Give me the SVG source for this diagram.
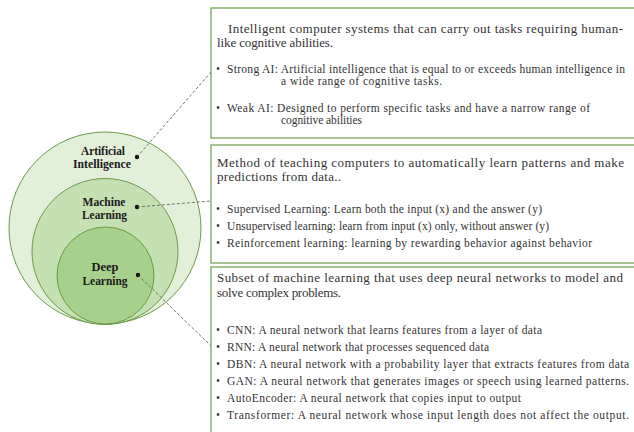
<svg xmlns="http://www.w3.org/2000/svg" width="634" height="432" viewBox="0 0 634 432">
  <style>
    .bg { fill: #ffffff; }
    .ring { stroke: #6a9a48; stroke-width: 1; }
    .lbl { font-family: "Liberation Serif", "DejaVu Serif", serif; font-size: 12px; font-weight: bold; fill: #1a1a1a; text-anchor: middle; }
    .box { fill: #ffffff; stroke: #76a556; stroke-width: 1.3; }
    .ttl { font-family: "Liberation Serif", "DejaVu Serif", serif; font-size: 13px; fill: #333333; }
    .itm { font-family: "Liberation Serif", "DejaVu Serif", serif; font-size: 11.5px; fill: #333333; }
    .dot { fill: #111111; }
    .lead { stroke: #555555; stroke-width: 0.8; stroke-dasharray: 3 2; fill: none; }
  </style>

  <rect class="bg" x="0" y="0" width="634" height="432"/>

  <!-- Nested circles -->
  <g id="artificial-intelligence">
    <circle class="ring" cx="105" cy="228" r="96" fill="#e2efd9"/>
    <text class="lbl" x="103" y="155" textLength="44" lengthAdjust="spacingAndGlyphs">Artificial</text>
    <text class="lbl" x="102" y="167.5" textLength="58" lengthAdjust="spacingAndGlyphs">Intelligence</text>
    <circle class="dot" cx="137" cy="157" r="2.2"/>
  </g>
  <g id="machine-learning">
    <circle class="ring" cx="105" cy="251.5" r="73" fill="#c5e0b3"/>
    <text class="lbl" x="104" y="205.5" textLength="43" lengthAdjust="spacingAndGlyphs">Machine</text>
    <text class="lbl" x="104.5" y="218.5" textLength="45" lengthAdjust="spacingAndGlyphs">Learning</text>
    <circle class="dot" cx="137" cy="207" r="2.2"/>
  </g>
  <g id="deep-learning">
    <circle class="ring" cx="105.5" cy="275.5" r="48.5" fill="#a8d08d"/>
    <text class="lbl" x="105" y="271" textLength="27" lengthAdjust="spacingAndGlyphs">Deep</text>
    <text class="lbl" x="105" y="285" textLength="45" lengthAdjust="spacingAndGlyphs">Learning</text>
    <circle class="dot" cx="138" cy="275" r="2.2"/>
  </g>

  <!-- Leader lines -->
  <g id="connectors">
    <line class="lead" x1="137" y1="157" x2="211" y2="72"/>
    <line class="lead" x1="137" y1="207" x2="211" y2="201"/>
    <line class="lead" x1="138" y1="275" x2="211" y2="346"/>
  </g>

  <!-- Description boxes -->
  <g id="box-ai">
    <rect class="box" x="211" y="8" width="440" height="130"/>
    <text class="ttl" x="228" y="33" textLength="395" lengthAdjust="spacing">Intelligent computer systems that can carry out tasks requiring human-</text>
    <text class="ttl" x="217" y="47" textLength="116" lengthAdjust="spacing">like cognitive abilities.</text>
    <text class="itm" x="216" y="73">•</text>
    <text class="itm" x="227" y="73" textLength="398" lengthAdjust="spacing">Strong AI: Artificial intelligence that is equal to or exceeds human intelligence in</text>
    <text class="itm" x="281" y="84.5" textLength="161" lengthAdjust="spacing">a wide range of cognitive tasks.</text>
    <text class="itm" x="216" y="112">•</text>
    <text class="itm" x="227" y="112" textLength="363" lengthAdjust="spacing">Weak AI: Designed to perform specific tasks and have a narrow range of</text>
    <text class="itm" x="281" y="123.5" textLength="81" lengthAdjust="spacing">cognitive abilities</text>
  </g>

  <g id="box-ml">
    <rect class="box" x="211" y="145" width="440" height="118"/>
    <text class="ttl" x="217" y="167" textLength="407" lengthAdjust="spacing">Method of teaching computers to automatically learn patterns and make</text>
    <text class="ttl" x="217" y="181" textLength="124" lengthAdjust="spacing">predictions from data..</text>
    <text class="itm" x="216" y="213">•</text>
    <text class="itm" x="227" y="213" textLength="315" lengthAdjust="spacing">Supervised Learning: Learn both the input (x) and the answer (y)</text>
    <text class="itm" x="216" y="230">•</text>
    <text class="itm" x="227" y="230" textLength="322" lengthAdjust="spacing">Unsupervised learning: learn from input (x) only, without answer (y)</text>
    <text class="itm" x="216" y="247">•</text>
    <text class="itm" x="227" y="247" textLength="365" lengthAdjust="spacing">Reinforcement learning: learning by rewarding behavior against behavior</text>
  </g>

  <g id="box-dl">
    <rect class="box" x="211" y="267" width="440" height="180"/>
    <text class="ttl" x="217" y="282" textLength="406" lengthAdjust="spacing">Subset of machine learning that uses deep neural networks to model and</text>
    <text class="ttl" x="217" y="297" textLength="124" lengthAdjust="spacing">solve complex problems.</text>
    <text class="itm" x="216" y="334">•</text>
    <text class="itm" x="227" y="334" textLength="315" lengthAdjust="spacing">CNN: A neural network that learns features from a layer of data</text>
    <text class="itm" x="216" y="351">•</text>
    <text class="itm" x="227" y="351" textLength="262" lengthAdjust="spacing">RNN: A neural network that processes sequenced data</text>
    <text class="itm" x="216" y="368">•</text>
    <text class="itm" x="227" y="368" textLength="402" lengthAdjust="spacing">DBN: A neural network with a probability layer that extracts features from data</text>
    <text class="itm" x="216" y="385">•</text>
    <text class="itm" x="227" y="385" textLength="402" lengthAdjust="spacing">GAN: A neural network that generates images or speech using learned patterns.</text>
    <text class="itm" x="216" y="402">•</text>
    <text class="itm" x="227" y="402" textLength="294" lengthAdjust="spacing">AutoEncoder: A neural network that copies input to output</text>
    <text class="itm" x="216" y="419">•</text>
    <text class="itm" x="227" y="419" textLength="402" lengthAdjust="spacing">Transformer: A neural network whose input length does not affect the output.</text>
  </g>
</svg>
